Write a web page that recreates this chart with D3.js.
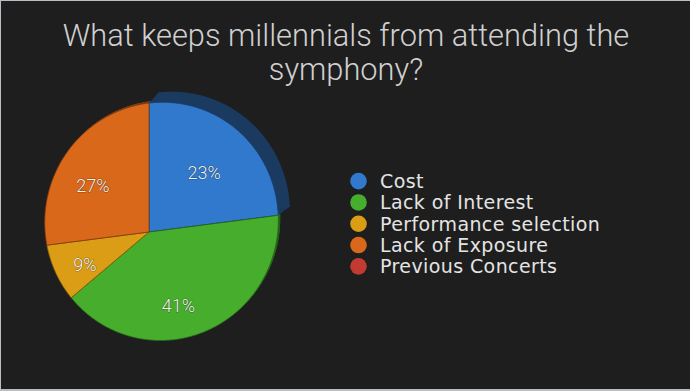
<!DOCTYPE html>
<html>
<head>
<meta charset="utf-8">
<script src="https://cdn.jsdelivr.net/npm/d3@7"></script>
<style>
  html, body { margin: 0; padding: 0; background: #1e1e1e; }
  svg { display: block; }
</style>
</head>
<body>
<div id="chart"></div>
<script>
// datos del grafico
const categories = ["Cost", "Lack of Interest", "Performance selection", "Lack of Exposure", "Previous Concerts"];
const values = [23, 41, 9, 27, 0];
const pctLabels = ["23%", "41%", "9%", "27%", ""];
const titleLines = ["What keeps millennials from attending the", "symphony?"];

const colors = ["#3079cc", "#47ad2c", "#dc9d16", "#d9681b", "#c13b33"];
const darkColors = ["#1b3a5f", "#24621a", "#7d5a0c", "#7a3a10", "#6a2020"];

const width = 690, height = 391;

const svg = d3.select("#chart")
    .append("svg")
    .attr("width", width)
    .attr("height", height);

// fondo y borde
svg.append("rect").attr("width", width).attr("height", height).attr("fill", "#1e1e1e");
svg.append("rect").attr("x", 0).attr("y", 0).attr("width", width).attr("height", 1).attr("fill", "#b9bdc5");
svg.append("rect").attr("x", 0).attr("y", 0).attr("width", 1).attr("height", height).attr("fill", "#b9bdc5");
svg.append("rect").attr("x", 0).attr("y", height - 2).attr("width", width).attr("height", 2).attr("fill", "#b9bdc5");

// titulo
svg.append("g").selectAll("text")
    .data(titleLines)
    .enter()
    .append("text")
    .attr("x", 346)
    .attr("y", (d, i) => 46 + i * 34)
    .attr("text-anchor", "middle")
    .attr("fill", "#d0d0d0")
    .style("font-family", "Roboto, 'Liberation Sans', sans-serif")
    .style("font-weight", 300)
    .style("font-size", "30.8px")
    .text(d => d);

// pie con una perspectiva ligera (la tarta esta inclinada)
const color = d3.scaleOrdinal().domain(categories).range(colors);
const colorDark = d3.scaleOrdinal().domain(categories).range(darkColors);

const pie = d3.pie().sort(null).value(d => d.value).startAngle(0).endAngle(2 * Math.PI);
const data = categories.map((c, i) => ({ name: c, value: values[i], label: pctLabels[i] }));
const arcs = pie(data);

const cx = 149, cy = 232;
const sx = 115, sy = 117.5, px = -0.107, py = 0.0886;

function project(theta, r) {
    const x = r * Math.sin(theta);
    const y = -r * Math.cos(theta);
    const den = 1 + px * x + py * y;
    return [cx + sx * x / den, cy + sy * y / den];
}

function slicePoints(a) {
    const pts = [project(0, 0)];
    const n = Math.max(2, Math.ceil((a.endAngle - a.startAngle) / 0.01));
    for (let k = 0; k <= n; k++) {
        const t = a.startAngle + (a.endAngle - a.startAngle) * k / n;
        pts.push(project(t, 1));
    }
    return pts;
}

const line = d3.line().curve(d3.curveLinearClosed);
const visible = arcs.filter(a => a.value > 0);

// cara lateral (efecto 3D): varias copias desplazadas = extrusion
// la porcion azul esta mas levantada
const steps = d3.range(1, 11).map(k => k / 10);
const sideData = [];
visible.slice().sort((a, b) => (a.index === 0) - (b.index === 0)).forEach(a => {
    steps.forEach(t => sideData.push({ arc: a, t: t }));
});

svg.append("g").selectAll("path")
    .data(sideData)
    .enter()
    .append("path")
    .attr("d", d => line(slicePoints(d.arc)))
    .attr("transform", d => d.arc.index === 0
        ? "translate(" + (cx + 9 * d.t) + "," + (cy - 8 * d.t) + ") scale(" + (1 + 0.02 * d.t) + ") translate(" + (-cx) + "," + (-cy) + ")"
        : "translate(" + (2 * d.t) + "," + (-2 * d.t) + ")")
    .attr("fill", d => colorDark(d.arc.data.name));

svg.append("g").selectAll("path")
    .data(visible)
    .enter()
    .append("path")
    .attr("d", d => line(slicePoints(d)))
    .attr("fill", d => color(d.data.name))
    .attr("stroke", d => colorDark(d.data.name))
    .attr("stroke-width", 0.8)
    .attr("stroke-linejoin", "round");

// etiquetas de porcentaje
svg.append("g").selectAll("text")
    .data(visible)
    .enter()
    .append("text")
    .attr("x", d => project((d.startAngle + d.endAngle) / 2, 0.66)[0])
    .attr("y", d => project((d.startAngle + d.endAngle) / 2, 0.66)[1] + 4)
    .attr("dy", "0.36em")
    .attr("text-anchor", "middle")
    .attr("fill", "#f4f4f4")
    .style("font-family", "Roboto, 'Liberation Sans', sans-serif")
    .style("font-weight", 300)
    .style("font-size", "18px")
    .style("paint-order", "stroke")
    .style("stroke", "rgba(0,0,0,0.35)")
    .style("stroke-width", "1.2px")
    .text(d => d.data.label);

// leyenda
const legendY = d3.scaleBand().domain(categories).range([170.5, 277]);

const legend = svg.append("g").selectAll("g")
    .data(categories)
    .enter()
    .append("g")
    .attr("transform", d => "translate(0," + (legendY(d) + legendY.bandwidth() / 2) + ")");

legend.append("circle")
    .attr("cx", 358.5)
    .attr("cy", 0)
    .attr("r", 8.3)
    .attr("fill", d => color(d));

legend.append("text")
    .attr("x", 380)
    .attr("y", 0)
    .attr("dy", "0.36em")
    .attr("fill", "#e4e4e4")
    .style("font-family", "'DejaVu Sans', sans-serif")
    .style("font-size", "19px")
    .style("letter-spacing", "0.4px")
    .text(d => d);
</script>
</body>
</html>
